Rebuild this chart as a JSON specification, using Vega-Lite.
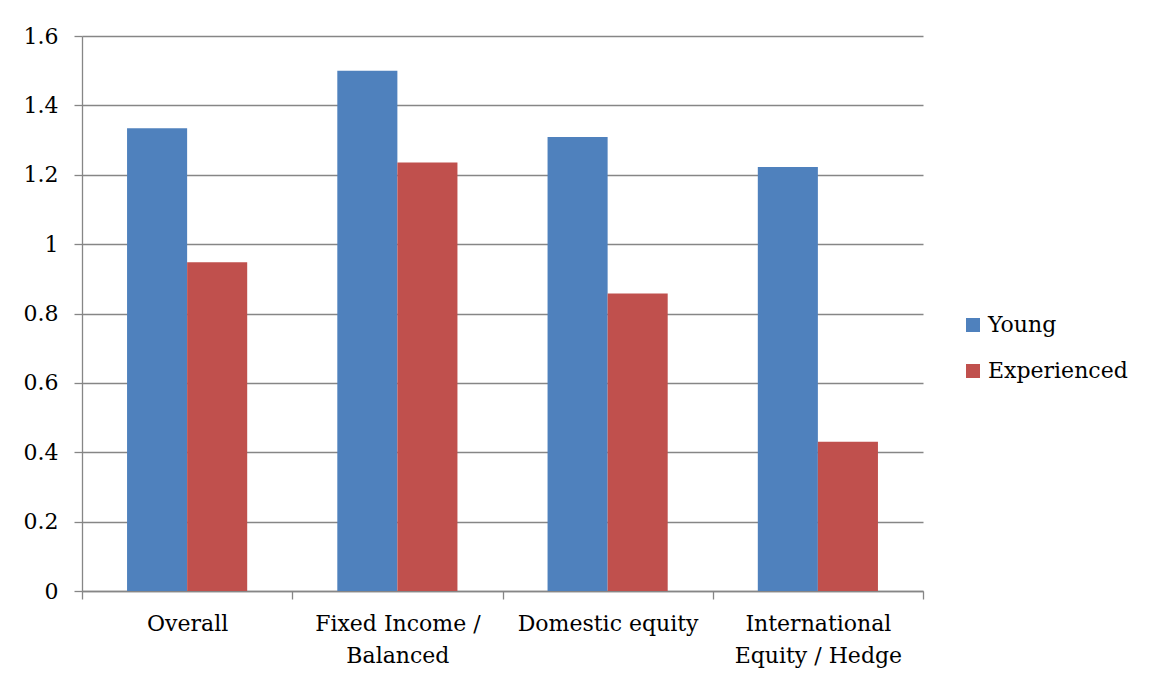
{
  "$schema": "https://vega.github.io/schema/vega-lite/v6.json",
  "autosize": "none",
  "padding": {"left": 82, "top": 36, "right": 227, "bottom": 92},
  "width": 841,
  "height": 555,
  "background": "white",
  "data": {"values": [
    {"category": "Overall", "group": "Young", "value": 1.334},
    {"category": "Overall", "group": "Experienced", "value": 0.948},
    {"category": "Fixed Income / Balanced", "group": "Young", "value": 1.5},
    {"category": "Fixed Income / Balanced", "group": "Experienced", "value": 1.235},
    {"category": "Domestic equity", "group": "Young", "value": 1.309},
    {"category": "Domestic equity", "group": "Experienced", "value": 0.858},
    {"category": "International Equity / Hedge", "group": "Young", "value": 1.222},
    {"category": "International Equity / Hedge", "group": "Experienced", "value": 0.43}
  ]},
  "mark": {"type": "bar"},
  "encoding": {
    "x": {
      "field": "category", "type": "nominal", "sort": null,
      "scale": {"paddingInner": 0, "paddingOuter": 0},
      "axis": {
        "title": null, "labelAngle": 0, "tickBand": "extent",
        "tickSize": 8, "labelPadding": 14, "labelLimit": 0,
        "labelLineHeight": 32,
        "labelExpr": "datum.value == 'Fixed Income / Balanced' ? ['Fixed Income /', 'Balanced'] : datum.value == 'International Equity / Hedge' ? ['International', 'Equity / Hedge'] : datum.value"
      }
    },
    "xOffset": {
      "field": "group", "type": "nominal", "sort": ["Young", "Experienced"],
      "scale": {"paddingInner": 0, "paddingOuter": 0.75}
    },
    "y": {
      "field": "value", "type": "quantitative",
      "scale": {"domain": [0, 1.6], "nice": false},
      "axis": {
        "title": null, "values": [0, 0.2, 0.4, 0.6, 0.8, 1, 1.2, 1.4, 1.6],
        "format": "~g", "grid": true, "tickSize": 8, "labelPadding": 16
      }
    },
    "color": {
      "field": "group", "type": "nominal",
      "scale": {"domain": ["Young", "Experienced"], "range": ["#4F81BD", "#C0504D"]},
      "legend": {
        "title": null, "orient": "none", "legendX": 880, "legendY": 278,
        "symbolType": "square", "symbolSize": 196, "symbolStrokeWidth": 0,
        "symbolOpacity": 1, "rowPadding": 24, "labelOffset": 4, "labelLimit": 0
      }
    }
  },
  "config": {
    "view": {"stroke": null},
    "font": "DejaVu Serif",
    "axis": {
      "labelFont": "DejaVu Serif", "labelFontSize": 22, "labelColor": "#000000",
      "domainColor": "#868686", "tickColor": "#868686", "gridColor": "#868686",
      "domainWidth": 1.3, "tickWidth": 1.3, "gridWidth": 1.3, "gridOpacity": 1
    },
    "legend": {"labelFont": "DejaVu Serif", "labelFontSize": 22, "labelColor": "#000000"}
  }
}
